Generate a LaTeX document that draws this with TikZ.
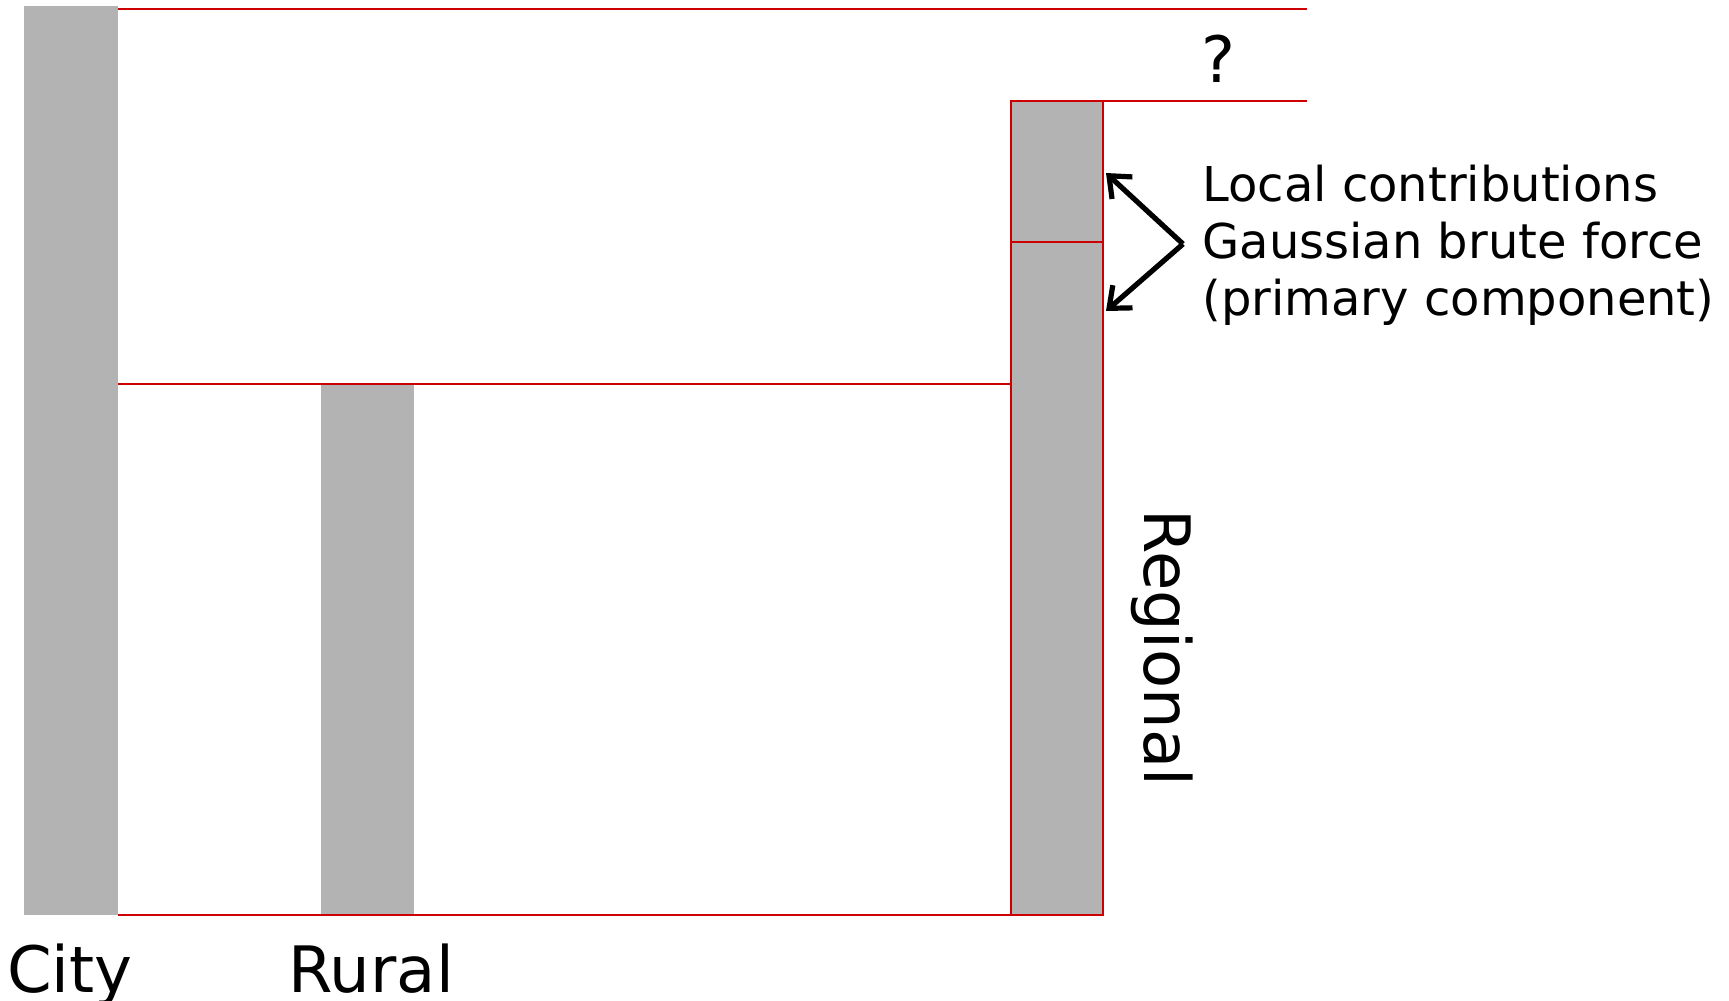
\documentclass[tikz,border=0pt]{standalone}
\usepackage{fontspec}
\setmainfont{DejaVu Sans}
\usetikzlibrary{arrows.meta}
\definecolor{barfill}{RGB}{179,179,179}
\definecolor{linered}{RGB}{204,0,0}
\tikzset{
  bar/.style={fill=barfill, draw=none},
  redline/.style={draw=linered, line width=1pt},
  pointer/.style={draw=black, line width=2.6pt, -{Straight Barb[length=9pt,width=15pt,line width=2.6pt]}},
  biglabel/.style={inner sep=0pt, font=\fontsize{32}{38}\selectfont},
  note/.style={inner sep=0pt, align=left, anchor=west, font=\fontsize{24}{28.6}\selectfont}
}
\begin{document}
\begin{tikzpicture}[x=0.5pt, y=-0.5pt]
  \useasboundingbox (0,0) rectangle (1729,1001);
  % bars
  \fill[bar] (24,6) rectangle (118,915);
  \fill[bar] (321,384) rectangle (414,915);
  \fill[bar] (1011,101) rectangle (1103,915);
  % regional bar outline and split
  \draw[redline] (1011,101) rectangle (1103,915);
  \draw[redline] (1011,241.5) -- (1103,241.5);
  % level lines
  \draw[redline] (118,8.5) -- (1307,8.5);
  \draw[redline] (1103,101) -- (1307,101);
  \draw[redline] (118,384) -- (1011,384);
  \draw[redline] (118,915) -- (1011,915);
  % labels
  \node[biglabel, anchor=base] (city) at (70,992) {City};
  \node[biglabel, anchor=base] (rural) at (371,992) {Rural};
  \node[biglabel, anchor=base, rotate=-90] (regional) at (1144,648) {Regional};
  \node[biglabel, anchor=base] (gap) at (1218,82) {?};
  \node[note] (local) at (1202,245) {Local contributions\\Gaussian brute force\\(primary component)};
  % pointers to the two local segments
  \coordinate (apex) at (1183,244);
  \coordinate (upper) at (1106,173);
  \coordinate (lower) at (1106,311);
  \draw[pointer] (apex) -- (upper);
  \draw[pointer] (apex) -- (lower);
\end{tikzpicture}
\end{document}
